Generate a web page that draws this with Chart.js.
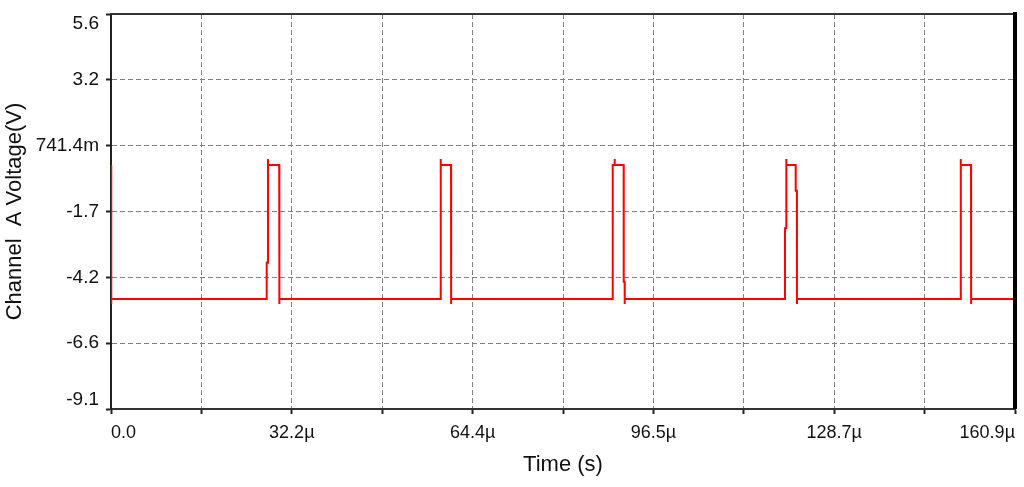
<!DOCTYPE html>
<html>
<head>
<meta charset="utf-8">
<script src="https://cdn.jsdelivr.net/npm/chart.js@4"></script>
<style>
  body { margin: 0; background: #fff; }
  canvas { display: block; }
</style>
</head>
<body>
<canvas id="scope" width="1024" height="487"></canvas>
<script>
    // waveform samples, time in µs and voltage in V
    const timeUs = [
      0, 0.02, 0.05, 0.07,
      27.70, 27.71, 27.93, 27.94, 27.96, 29.94, 29.96, 29.98,
      58.67, 58.68, 58.70, 60.52, 60.53, 60.55,
      89.29, 89.30, 89.64, 89.65, 89.66, 91.25, 91.26, 91.42, 91.43, 91.45,
      119.95, 119.96, 120.18, 120.19, 120.21, 121.86, 121.87, 122.08, 122.09, 122.11,
      151.23, 151.24, 151.26, 153.07, 153.08, 153.10,
      160.9
    ];
    const voltage = [
      0.02, -4.10, -5.15, -4.97,
      -4.97, -3.62, -3.62, 0.24, 0.02, 0.02, -5.15, -4.97,
      -4.97, 0.24, 0.02, 0.02, -5.15, -4.97,
      -4.97, 0.02, 0.02, 0.24, 0.02, 0.02, -4.32, -4.32, -5.15, -4.97,
      -4.97, -2.33, -2.33, 0.24, 0.02, 0.02, -0.94, -0.94, -5.15, -4.97,
      -4.97, 0.24, 0.02, 0.02, -5.15, -4.97,
      -4.97
    ];

    const xTickValues = [0, 16.09, 32.18, 48.27, 64.36, 80.45, 96.54, 112.63, 128.72, 144.81, 160.9];
    const xTickLabels = ['0.0', '', '32.2\u00b5', '', '64.4\u00b5', '', '96.5\u00b5', '', '128.7\u00b5', '', '160.9\u00b5'];
    const yTickValues = [-9.06, -6.61, -4.16, -1.71, 0.7414, 3.19, 5.64];
    const yTickLabels = ['-9.1', '-6.6', '-4.2', '-1.7', '741.4m', '3.2', '5.6'];

    const FONT = "'Liberation Sans', Arial, sans-serif";

    // frame: top line and the heavy right edge
    const framePlugin = {
      id: 'frame',
      afterDraw(chart) {
        const { ctx, chartArea: a } = chart;
        ctx.save();
        ctx.strokeStyle = '#333';
        ctx.lineWidth = 2;
        ctx.beginPath();
        ctx.moveTo(a.left, a.top);
        ctx.lineTo(a.right, a.top);
        ctx.stroke();
        ctx.strokeStyle = '#000';
        ctx.lineWidth = 4;
        ctx.beginPath();
        ctx.moveTo(a.right, a.top - 2);
        ctx.lineTo(a.right, a.bottom);
        ctx.stroke();
        ctx.restore();
      }
    };

    // y labels, end labels pushed inside the axis span
    const yLabelPlugin = {
      id: 'yLabels',
      afterDraw(chart) {
        const { ctx, chartArea: a } = chart;
        const scale = chart.scales.y;
        ctx.save();
        ctx.font = '19px ' + FONT;
        ctx.fillStyle = '#111';
        ctx.textAlign = 'right';
        yTickValues.forEach((v, i) => {
          const y = scale.getPixelForValue(v);
          if (i === 0) ctx.textBaseline = 'bottom';
          else if (i === yTickValues.length - 1) ctx.textBaseline = 'top';
          else ctx.textBaseline = 'middle';
          ctx.fillText(yTickLabels[i], a.left - 12, y);
        });
        ctx.restore();
      }
    };

    const points = timeUs.map((t, i) => ({ x: t, y: voltage[i] }));

    new Chart(document.getElementById('scope').getContext('2d'), {
      type: 'line',
      data: {
        datasets: [{
          label: 'Channel A',
          data: points,
          borderColor: '#ff0000',
          borderWidth: 2,
          pointRadius: 0,
          tension: 0,
          fill: false
        }]
      },
      options: {
        responsive: false,
        animation: false,
        devicePixelRatio: 1,
        layout: { padding: { top: 14, right: 9, bottom: 0, left: 0 } },
        plugins: {
          legend: { display: false },
          tooltip: { enabled: false }
        },
        scales: {
          x: {
            type: 'linear',
            min: 0,
            max: 160.9,
            afterBuildTicks: s => { s.ticks = xTickValues.map(v => ({ value: v })); },
            afterFit: s => { s.height = 78; },
            ticks: {
              autoSkip: false,
              maxRotation: 0,
              align: 'inner',
              padding: 8,
              color: '#111',
              font: { family: FONT, size: 18 },
              callback: (v, i) => xTickLabels[i]
            },
            grid: {
              color: c => (c.index === 0 || c.index === xTickValues.length - 1) ? 'transparent' : '#808080',
              lineWidth: 1,
              tickLength: 5,
              tickColor: '#222',
              tickWidth: 2,
              tickBorderDash: []
            },
            border: { color: '#333', width: 2, dash: [5, 3] },
            title: {
              display: true,
              text: 'Time (s)',
              color: '#111',
              font: { family: FONT, size: 22 },
              padding: { top: 0, bottom: 9 }
            }
          },
          y: {
            type: 'linear',
            min: -9.06,
            max: 5.64,
            afterBuildTicks: s => { s.ticks = yTickValues.map(v => ({ value: v })); },
            afterFit: s => { s.width = 111; },
            ticks: { display: false },
            grid: {
              color: c => (c.index === 0 || c.index === yTickValues.length - 1) ? 'transparent' : '#808080',
              lineWidth: 1,
              tickLength: 5,
              tickColor: '#222',
              tickWidth: 2,
              tickBorderDash: []
            },
            border: { color: '#222', width: 2, dash: [5, 3] },
            title: {
              display: true,
              text: 'Channel  A Voltage(V)',
              color: '#111',
              font: { family: FONT, size: 22 },
              padding: { top: 2, bottom: 0 }
            }
          }
        }
      },
      plugins: [framePlugin, yLabelPlugin]
    });
</script>
</body>
</html>
